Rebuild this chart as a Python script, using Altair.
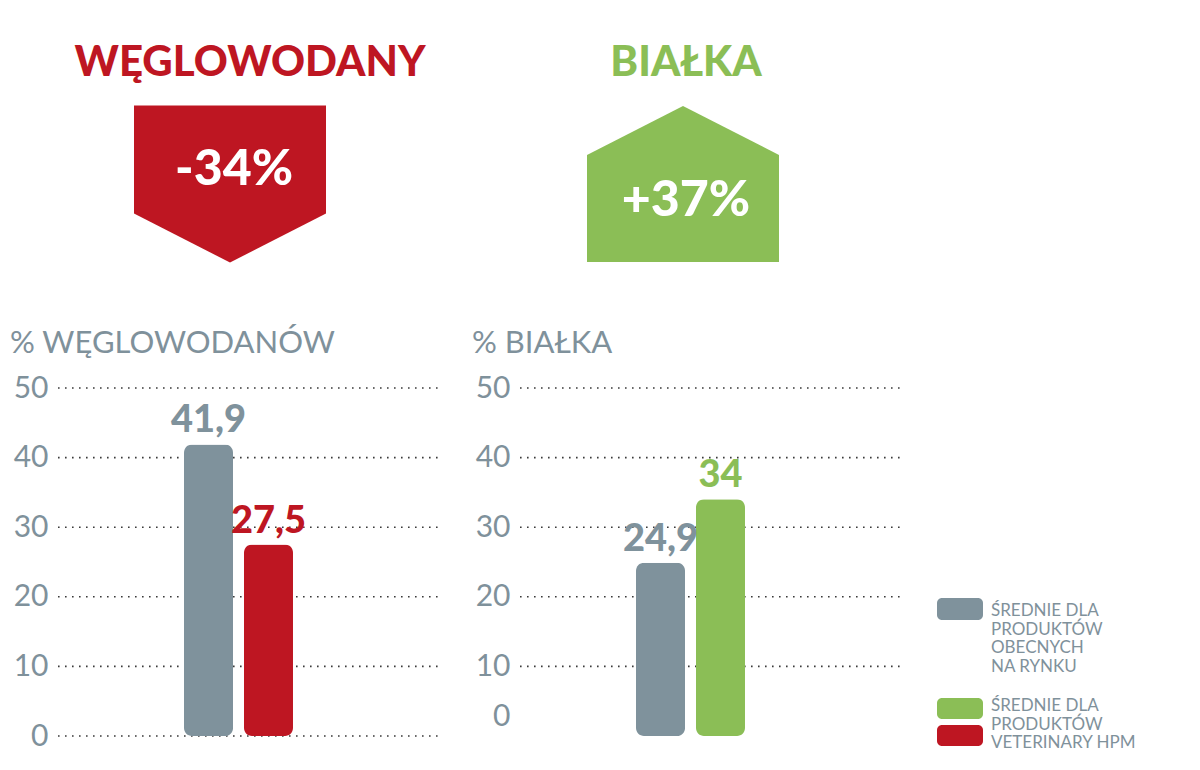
import altair as alt
import pandas as pd

# ---- data ----
series = ["Średnie dla produktów obecnych na rynku", "Średnie dla produktów Veterinary HPM"]
carb_values = [41.9, 27.5]
carb_labels = ["41,9", "27,5"]
protein_values = [24.9, 34]
protein_labels = ["24,9", "34"]
y_ticks = [0, 10, 20, 30, 40, 50]
carb_grid = [0, 10, 20, 30, 40, 50]
protein_grid = [10, 20, 30, 40, 50]
headers = ["WĘGLOWODANY", "BIAŁKA"]
changes = ["-34%", "+37%"]
subtitles = ["% WĘGLOWODANÓW", "% BIAŁKA"]
legend_labels = ["ŚREDNIE DLA\nPRODUKTÓW\nOBECNYCH\nNA RYNKU",
                 "ŚREDNIE DLA\nPRODUKTÓW\nVETERINARY HPM"]

# ---- styles ----
GRAY = "#7f929c"
RED = "#be1622"
GREEN = "#8bbe56"
TXT = "#7f919b"
FONT = "Lato"
W, H = 382, 348

DOWN_ARROW = "M-1,-0.818 L1,-0.818 L1,0.307 L0,0.818 L-1,0.307 Z"
UP_HOUSE = "M0,-0.8125 L1,-0.302 L1,0.8125 L-1,0.8125 L-1,-0.302 Z"


def panel(values, labels, grid_vals, accent, x_range, header, change, subtitle, shape_path,
          header_x, shape_x, change_x, change_y, zero_offset):
    df = pd.DataFrame({"series": series, "value": values, "label": labels})
    x = alt.X("series:N", sort=series, axis=None,
              scale=alt.Scale(paddingInner=0.1833, paddingOuter=0.0917, range=x_range))
    lab_off = {"condition": {"test": "datum.value === 0", "value": zero_offset}, "value": 0}
    yscale = alt.Scale(domain=[0, 50], nice=False)
    yaxis = alt.Axis(values=y_ticks, title=None, domain=False, ticks=False,
                     labelFont=FONT, labelFontSize=30, labelColor=TXT,
                     labelPadding=10, grid=False, labelOffset=lab_off)
    color = alt.Color("series:N", scale=alt.Scale(domain=series, range=[GRAY, accent]),
                      legend=None)
    gdf = pd.DataFrame({"value": grid_vals})
    grid = alt.Chart(gdf).mark_rule(color="#3a3a3a", strokeWidth=1.6,
                                    strokeDash=[1.6, 5.4]).encode(
        y=alt.Y("value:Q", scale=yscale, axis=yaxis), x=alt.value(0), x2=alt.value(W))
    bars = alt.Chart(df).mark_bar(cornerRadius=8).encode(
        x=x, y=alt.Y("value:Q", scale=yscale, axis=yaxis), color=color)
    vals = alt.Chart(df).mark_text(font=FONT, fontSize=38, fontWeight=900,
                                   baseline="alphabetic", dy=-12).encode(
        x=x, y=alt.Y("value:Q", scale=yscale, axis=yaxis), text="label:N", color=color)

    hdf = pd.DataFrame({"header": [header], "change": [change], "subtitle": [subtitle]})
    base = alt.Chart(hdf)
    shape = base.mark_point(shape=shape_path, size=192 * 192, filled=True, opacity=1,
                            color=accent, strokeWidth=0).encode(
        x=alt.value(shape_x), y=alt.value(-204))
    head = base.mark_text(font=FONT, fontSize=42, fontWeight=900, color=accent,
                          align="center", baseline="alphabetic").encode(
        text="header:N", x=alt.value(header_x), y=alt.value(-312))
    chg = base.mark_text(font=FONT, fontSize=50, fontWeight=900, color="white",
                         align="center", baseline="alphabetic").encode(
        text="change:N", x=alt.value(change_x), y=alt.value(change_y))
    sub = base.mark_text(font=FONT, fontSize=31, fontWeight=400, color=TXT,
                         align="left", baseline="alphabetic").encode(
        text="subtitle:N", x=alt.value(-48), y=alt.value(-35))
    return alt.layer(shape, head, chg, sub, grid, bars, vals).properties(
        width=W, height=H).resolve_scale(color="independent")


left = panel(carb_values, carb_labels, carb_grid, RED, [120.5, 240.5], headers[0], changes[0],
             subtitles[0], DOWN_ARROW, 192, 172, 176, -203, 0)
right = panel(protein_values, protein_labels, protein_grid, GREEN, [110.5, 230.5], headers[1],
              changes[1], subtitles[1], UP_HOUSE, 166, 163, 166, -172, -20)

# ---- custom legend (panel starts 80px right of the protein panel) ----
ldf = pd.DataFrame({"label": legend_labels})
swatch_specs = [(GRAY, 210, 232), (GREEN, 310, 331), (RED, 337, 358)]
layers = []
for col, y0, y1 in swatch_specs:
    layers.append(alt.Chart(ldf.head(1)).mark_rect(cornerRadius=5, color=col).encode(
        x=alt.value(-45), x2=alt.value(1), y=alt.value(y0), y2=alt.value(y1)))
for i, yb in enumerate([228, 323]):
    layers.append(alt.Chart(ldf.iloc[[i]]).mark_text(
        font=FONT, fontSize=17, color=TXT, align="left", baseline="alphabetic",
        lineBreak="\n", lineHeight=18.5).encode(
        text="label:N", x=alt.value(9), y=alt.value(yb)))
legend = alt.layer(*layers).properties(width=180, height=H)

chart = alt.hconcat(left, right, legend, spacing=80, bounds="flush").resolve_scale(
    color="independent").configure_view(stroke=None).properties(
    background="white", padding={"left": 2, "top": 34, "right": 0, "bottom": 0})

chart.save("out.html", embed_options={"renderer": "svg", "actions": False})
